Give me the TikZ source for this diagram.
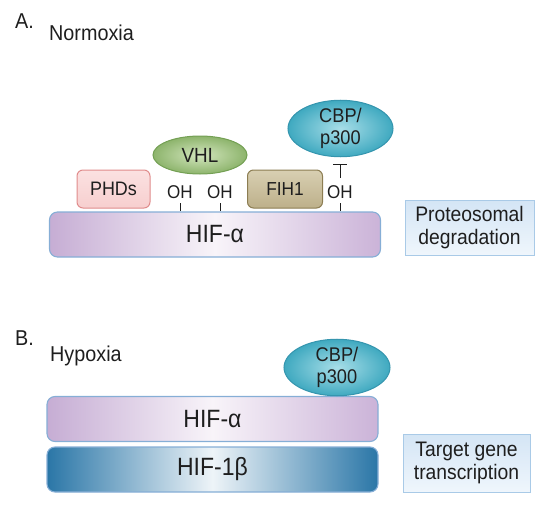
\documentclass[tikz,border=0pt]{standalone}
\usepackage{fontspec}
\setmainfont[FakeStretch=0.92]{Liberation Sans}
\usetikzlibrary{shapes.geometric,arrows.meta}
\definecolor{barline}{HTML}{86AED6}
\definecolor{purpL}{HTML}{C6ADD4}
\definecolor{purpM}{HTML}{F8F4F9}
\definecolor{purpR}{HTML}{CBB3D8}
\definecolor{blueD}{HTML}{2A76A7}
\definecolor{blueM}{HTML}{EEF4F8}
\definecolor{vhlIn}{HTML}{D3E6BE}
\definecolor{vhlOut}{HTML}{8DB46C}
\definecolor{vhlLine}{HTML}{74A054}
\definecolor{cbpIn}{HTML}{A8DEE8}
\definecolor{cbpOut}{HTML}{3FA9C0}
\definecolor{cbpLine}{HTML}{3595AE}
\definecolor{phdFill}{HTML}{F7CFCF}
\definecolor{phdTop}{HTML}{FBE1E1}
\definecolor{phdLine}{HTML}{E08C8C}
\definecolor{fihTop}{HTML}{D8CFB2}
\definecolor{fihBot}{HTML}{BDB08A}
\definecolor{fihLine}{HTML}{8C7D52}
\definecolor{boxTop}{HTML}{D4E5F5}
\definecolor{boxBot}{HTML}{EFF6FC}
\definecolor{boxLine}{HTML}{A9CAE7}
\definecolor{ink}{HTML}{1E1E1E}
\begin{document}
\begin{tikzpicture}[x=1pt,y=-1pt,
  lbl/.style={font=\fontsize{21.5}{24}\selectfont, text=ink, inner sep=0pt, anchor=base west},
  barbox/.style={draw=barline, line width=1.1pt, rounded corners=8pt, minimum width=331pt,
    minimum height=45pt, inner sep=0pt, font=\fontsize{25}{28}\selectfont, text=ink},
  purplebar/.style={barbox, left color=purpL, right color=purpR, middle color=purpM},
  bluebar/.style={barbox, left color=blueD, right color=blueD, middle color=blueM},
  enzyme/.style={rounded corners=6pt, line width=1pt, minimum height=38pt, inner sep=0pt,
    font=\fontsize{19.5}{22}\selectfont, text=ink},
  blob/.style={ellipse, line width=1pt, inner sep=0pt, text=ink, align=center},
  ohs/.style={font=\fontsize{18.5}{21}\selectfont, text=ink, inner sep=3pt, anchor=base},
  outcome/.style={draw=boxLine, line width=1pt, top color=boxTop, bottom color=boxBot,
    inner sep=0pt, align=center, text=ink, font=\fontsize{21}{23.5}\selectfont},
  tick/.style={line width=1pt, draw=ink}
]
\useasboundingbox (0,0) rectangle (550,506);

% Panel A
\node[lbl] (labA) at (15,28) {A.};
\node[lbl] (norm) at (49,41) {Normoxia};

\node[purplebar] (hifA) at (215,234.5) {HIF-α};

\node[enzyme, draw=phdLine, top color=phdTop, bottom color=phdFill, minimum width=73pt] (phd) at (113.5,189) {PHDs};
\node[enzyme, draw=fihLine, top color=fihTop, bottom color=fihBot, minimum width=75pt, font=\fontsize{18.8}{21}\selectfont] (fih) at (285,189) {FIH1};

\node[blob, draw=vhlLine, inner color=vhlIn, outer color=vhlOut, minimum width=94pt, minimum height=38pt,
  font=\fontsize{20.5}{23}\selectfont] (vhl) at (200,155) {VHL};
\node[blob, draw=cbpLine, inner color=cbpIn, outer color=cbpOut, minimum width=105pt, minimum height=51pt,
  font=\fontsize{19.8}{21.5}\selectfont] (cbpA) at (340.5,128.5) {CBP/\\p300};

\node[ohs] (oh1) at (180,198) {OH};
\node[ohs] (oh2) at (220,198) {OH};
\node[ohs] (oh3) at (340,198) {OH};

\draw[tick, shorten <=2pt] (oh1.south) -- (oh1.south |- hifA.north);
\draw[tick, shorten <=2pt] (oh2.south) -- (oh2.south |- hifA.north);
\draw[tick, shorten <=2pt] (oh3.south) -- (oh3.south |- hifA.north);
\draw[tick, -{Bar[width=14pt,line width=1pt]}, shorten <=4pt, shorten >=7pt] (oh3.north) -- (oh3.north |- cbpA.south);

\node[outcome, minimum width=129pt, minimum height=55pt] (prot) at (469.5,227.5) {Proteosomal\\degradation};

% Panel B
\node[lbl] (labB) at (15,345) {B.};
\node[lbl] (hyp) at (50,361) {Hypoxia};

\node[purplebar] (hifB) at (212.5,419) {HIF-α};
\node[bluebar] (hif1b) at (212.5,469.5) {HIF-1β};

\node[blob, draw=cbpLine, inner color=cbpIn, outer color=cbpOut, minimum width=106pt, minimum height=49pt,
  font=\fontsize{19.8}{21.5}\selectfont] (cbpB) at (337,367.5) {CBP/\\p300};

\node[outcome, minimum width=127pt, minimum height=58pt] (targ) at (466.5,463) {Target gene\\transcription};
\end{tikzpicture}
\end{document}
